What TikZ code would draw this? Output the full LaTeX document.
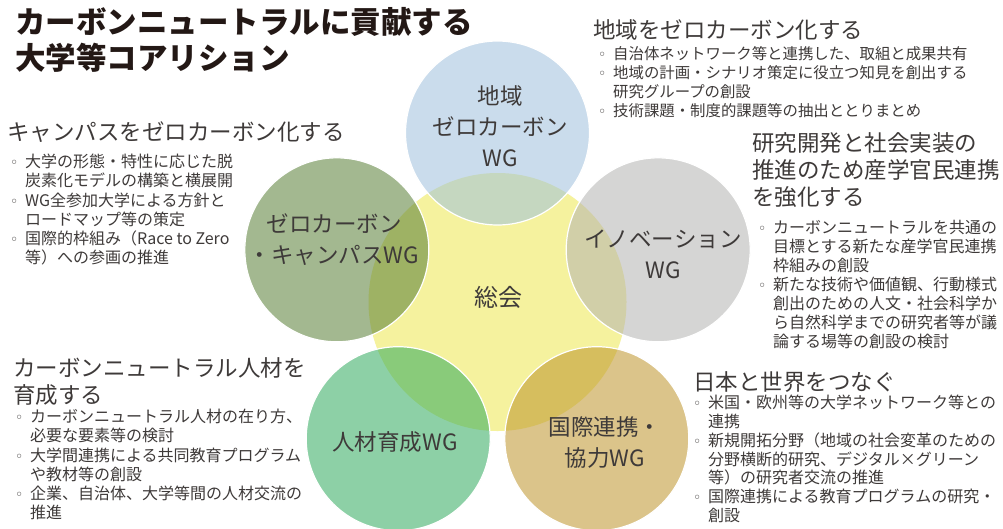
\documentclass[tikz,border=0pt]{standalone}
\usepackage{fontspec}
\setmainfont{Noto Sans CJK JP}
\newfontfamily\dejavu{DejaVu Sans}
\definecolor{yellowc}{RGB}{245,242,158}
\definecolor{bluec}{RGB}{159,193,221}
\definecolor{olivec}{RGB}{88,126,53}
\definecolor{grayc}{RGB}{180,179,177}
\definecolor{greenc}{RGB}{49,171,93}
\definecolor{goldc}{RGB}{190,148,42}
\definecolor{txt}{RGB}{62,58,57}
\definecolor{ttl}{RGB}{35,24,21}
\newcommand{\bl}{\makebox[15pt][l]{\dejavu\fontsize{14}{14}\selectfont ◦}}
\newcommand{\ct}{\hspace*{15pt}}
\begin{document}
\begin{tikzpicture}[x=1pt,y=-1pt,
  wgcircle/.style={circle, minimum size=184pt, inner sep=0pt, fill=#1, fill opacity=0.55, draw=white, line width=1.2pt},
  wglabel/.style={align=center, inner sep=0pt, text=txt, font=\fontsize{22.5}{31}\selectfont},
  head/.style={anchor=north west, align=left, inner sep=0pt, text=txt, font=\fontsize{22.5}{27}\selectfont},
  blist/.style={anchor=north west, align=left, inner sep=0pt, text=txt, font=\fontsize{16}{19.2}\selectfont}]
\useasboundingbox (0,0) rectangle (1003,528);
\fill[white] (0,0) rectangle (1003,528);

% circles
\node[circle, minimum size=258pt, inner sep=0pt, fill=yellowc] (core) at (497.5,302) {};
\node[wgcircle=bluec]  (c1) at (497.5,133) {};
\node[wgcircle=olivec] (c2) at (336.8,249.8) {};
\node[wgcircle=grayc]  (c3) at (658.2,249.8) {};
\node[wgcircle=greenc] (c4) at (398.2,438.7) {};
\node[wgcircle=goldc]  (c5) at (596.8,438.7) {};

% circle labels
\node[wglabel] (l0) at (498,297) {\fontsize{24}{30}\selectfont 総会};
\node[wglabel] (l1) at (500,126) {地域\\ゼロカーボン\\WG};
\node[wglabel] (l2) at (334,240) {ゼロカーボン\\・キャンパスWG};
\node[wglabel] (l3) at (663,254) {イノベーション\\WG};
\node[wglabel] (l4) at (395,442) {人材育成WG};
\node[wglabel] (l5) at (605,442) {国際連携・\\協力WG};

% title
\node[anchor=north west, align=left, inner sep=0pt, text=ttl,
  font=\fontsize{30.5}{36}\selectfont\bfseries] (title) at (15,7)
  {カーボンニュートラルに貢献する\\大学等コアリション};

% top right
\node[head] (h1) at (593,19) {地域をゼロカーボン化する};
\node[blist, font=\fontsize{15.4}{19}\selectfont] (b1) at (598,46)
  {\bl 自治体ネットワーク等と連携した、取組と成果共有\\
   \bl 地域の計画・シナリオ策定に役立つ知見を創出する\\
   \ct 研究グループの創設\\
   \bl 技術課題・制度的課題等の抽出ととりまとめ};

% left
\node[head] (h2) at (7,121) {キャンパスをゼロカーボン化する};
\node[blist] (b2) at (10,154)
  {\bl 大学の形態・特性に応じた脱\\
   \ct 炭素化モデルの構築と横展開\\
   \bl WG全参加大学による方針と\\
   \ct ロードマップ等の策定\\
   \bl 国際的枠組み（Race to Zero\\
   \ct 等）への参画の推進};

% right
\node[head] (h3) at (752,132) {研究開発と社会実装の\\推進のため産学官民連携\\を強化する};
\node[blist, font=\fontsize{16}{19}\selectfont] (b3) at (758,220)
  {\bl カーボンニュートラルを共通の\\
   \ct 目標とする新たな産学官民連携\\
   \ct 枠組みの創設\\
   \bl 新たな技術や価値観、行動様式\\
   \ct 創出のための人文・社会科学か\\
   \ct ら自然科学までの研究者等が議\\
   \ct 論する場等の創設の検討};

% bottom left
\node[head] (h4) at (13,357) {カーボンニュートラル人材を\\育成する};
\node[blist] (b4) at (15,409)
  {\bl カーボンニュートラル人材の在り方、\\
   \ct 必要な要素等の検討\\
   \bl 大学間連携による共同教育プログラム\\
   \ct や教材等の創設\\
   \bl 企業、自治体、大学等間の人材交流の\\
   \ct 推進};

% bottom right
\node[head] (h5) at (693,371) {日本と世界をつなぐ};
\node[blist, font=\fontsize{16}{18.8}\selectfont] (b5) at (693,395)
  {\bl 米国・欧州等の大学ネットワーク等との\\
   \ct 連携\\
   \bl 新規開拓分野（地域の社会変革のための\\
   \ct 分野横断的研究、デジタル×グリーン\\
   \ct 等）の研究者交流の推進\\
   \bl 国際連携による教育プログラムの研究・\\
   \ct 創設};
\end{tikzpicture}
\end{document}
